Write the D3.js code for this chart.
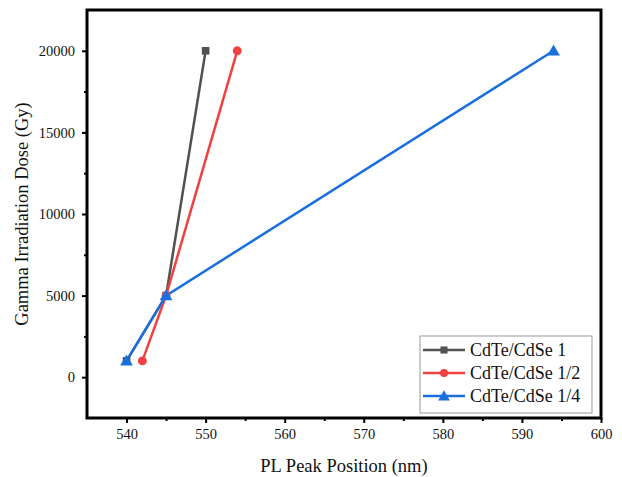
<!DOCTYPE html>
<html>
<head>
<meta charset="utf-8">
<script src="https://cdn.jsdelivr.net/npm/d3@7"></script>
<style>
  html, body { margin: 0; padding: 0; background: #fff; }
  svg { display: block; }
  text { font-family: "Liberation Serif", "Times New Roman", serif; }
</style>
</head>
<body>
<svg id="chart" width="622" height="477"></svg>
<script>
// PL peak position (nm) against gamma irradiation dose (Gy)
const seriesNames = ["CdTe/CdSe 1", "CdTe/CdSe 1/2", "CdTe/CdSe 1/4"];
const seriesColors = ["#515151", "#F14040", "#1A6FDF"];
const seriesSymbols = [d3.symbolSquare, d3.symbolCircle, d3.symbolTriangle];
const doses = [1000, 5000, 20000];
const peak1 = [540, 545, 550];
const peak2 = [542, 545, 554];
const peak4 = [540, 545, 594];
const xTicks = [540, 550, 560, 570, 580, 590, 600];
const yTicks = [0, 5000, 10000, 15000, 20000];

const series = [peak1, peak2, peak4].map((p, i) => ({
  name: seriesNames[i],
  color: seriesColors[i],
  symbol: seriesSymbols[i],
  points: p.map((x, j) => ({ x, y: doses[j] }))
}));

const svg = d3.select("#chart");
const m = { left: 87, right: 601, top: 10, bottom: 418 };

const x = d3.scaleLinear().domain([535, 600]).range([m.left, m.right]);
const y = d3.scaleLinear().domain([-2500, 22500]).range([m.bottom, m.top]);

// plotting area: clip data to frame
svg.append("clipPath").attr("id", "clip")
  .append("rect").attr("x", m.left).attr("y", m.top)
  .attr("width", m.right - m.left).attr("height", m.bottom - m.top);

const plot = svg.append("g").attr("clip-path", "url(#clip)");
const line = d3.line().x(d => x(d.x)).y(d => y(d.y));

series.forEach(s => {
  plot.append("path")
    .datum(s.points)
    .attr("fill", "none")
    .attr("stroke", s.color)
    .attr("stroke-width", 2.5)
    .attr("d", line);
});
series.forEach(s => {
  const size = s.symbol === d3.symbolTriangle ? 70 : (s.symbol === d3.symbolCircle ? 62 : 58);
  plot.selectAll(null)
    .data(s.points)
    .enter().append("path")
    .attr("transform", d => `translate(${x(d.x)},${y(d.y) + (s.symbol === d3.symbolTriangle ? 1 : 0)})`)
    .attr("d", d3.symbol().type(s.symbol).size(size))
    .attr("fill", s.color);
});

// axes
const xAxis = svg.append("g").attr("transform", `translate(0,${m.bottom})`)
  .call(d3.axisBottom(x).tickValues(xTicks).tickSize(5).tickPadding(6).tickFormat(d3.format("d")));
const xMinor = svg.append("g").attr("transform", `translate(0,${m.bottom})`)
  .call(d3.axisBottom(x).tickValues(d3.range(545, 600, 10)).tickSize(3).tickFormat(""));
const yAxis = svg.append("g").attr("transform", `translate(${m.left},0)`)
  .call(d3.axisLeft(y).tickValues(yTicks).tickSize(5).tickPadding(7).tickFormat(d3.format("d")));
const yMinor = svg.append("g").attr("transform", `translate(${m.left},0)`)
  .call(d3.axisLeft(y).tickValues(d3.range(2500, 22500, 5000)).tickSize(3).tickFormat(""));

[xAxis, xMinor, yAxis, yMinor].forEach(g => {
  g.select(".domain").remove();
  g.selectAll("line").attr("stroke", "#000").attr("stroke-width", 2);
  g.selectAll("text").attr("font-size", 14.5).attr("fill", "#111")
    .style("font-family", "'Liberation Serif', serif");
});

// frame
svg.append("rect")
  .attr("x", m.left).attr("y", m.top)
  .attr("width", m.right - m.left).attr("height", m.bottom - m.top)
  .attr("fill", "none").attr("stroke", "#000").attr("stroke-width", 3);

// axis titles
svg.append("text")
  .attr("x", (m.left + m.right) / 2).attr("y", 472)
  .attr("text-anchor", "middle").attr("font-size", 18.5).attr("fill", "#111")
  .text("PL Peak Position (nm)");
svg.append("text")
  .attr("transform", `translate(28,${(m.top + m.bottom) / 2}) rotate(-90)`)
  .attr("text-anchor", "middle").attr("font-size", 18.5).attr("fill", "#111")
  .text("Gamma Irradiation Dose (Gy)");

// legend
const lg = svg.append("g").attr("transform", "translate(420,336)");
lg.append("rect").attr("width", 172).attr("height", 77)
  .attr("fill", "#fff").attr("stroke", "#999").attr("stroke-width", 1);
series.forEach((s, i) => {
  const cy = 14 + i * 23;
  lg.append("line").attr("x1", 3).attr("x2", 45).attr("y1", cy).attr("y2", cy)
    .attr("stroke", s.color).attr("stroke-width", 2.5);
  lg.append("path")
    .attr("transform", `translate(24,${cy + (s.symbol === d3.symbolTriangle ? 1 : 0)})`)
    .attr("d", d3.symbol().type(s.symbol).size(s.symbol === d3.symbolTriangle ? 60 : 50))
    .attr("fill", s.color);
  lg.append("text").attr("x", 50).attr("y", cy + 6)
    .attr("font-size", 18).attr("fill", "#111").text(s.name);
});
</script>
</body>
</html>
